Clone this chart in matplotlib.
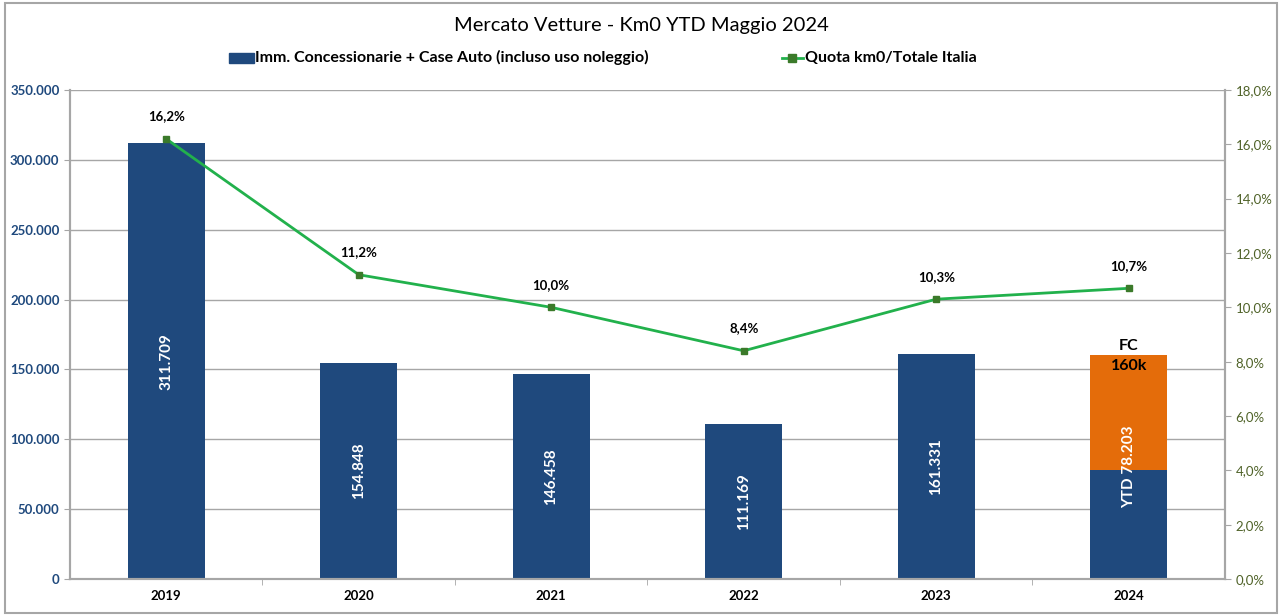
import matplotlib
matplotlib.use('Agg')
import matplotlib.pyplot as plt
from matplotlib.patches import Rectangle
from matplotlib.ticker import FuncFormatter, MultipleLocator

plt.rcParams['font.family'] = ['Lato', 'DejaVu Sans']

years = ['2019', '2020', '2021', '2022', '2023', '2024']
immatricolazioni = [311709, 154848, 146458, 111169, 161331, 78203]
forecast_2024 = 160000
quota_pct = [16.2, 11.2, 10.0, 8.4, 10.3, 10.7]
bar_labels = ['311.709', '154.848', '146.458', '111.169', '161.331', 'YTD 78.203']

BLUE = '#1F497D'
ORANGE = '#E46C0A'
GREEN = '#22B14C'
MARKER = '#3B7A2A'
GRID = '#A6A6A6'


def it_thousands(v, pos=None):
    return f"{int(round(v)):,}".replace(',', '.')


fig = plt.figure(figsize=(12.82, 6.15), dpi=100)
ax = fig.add_axes([0.0546, 0.0585, 0.9009, 0.7952])
ax2 = ax.twinx()

x = list(range(len(years)))
width = 0.4
ax.bar(x, immatricolazioni, width=width, color=BLUE, zorder=2)
ax.bar(x[-1], forecast_2024 - immatricolazioni[-1], bottom=immatricolazioni[-1],
       width=width, color=ORANGE, zorder=2)

for i, lab in enumerate(bar_labels):
    top = forecast_2024 if i == len(years) - 1 else immatricolazioni[i]
    ax.text(i, top / 2, lab, rotation=90, ha='center', va='center',
            color='white', fontsize=11, fontweight='bold', zorder=3)

ax.text(x[-1], forecast_2024 + 1500, 'FC', ha='center', va='bottom',
        fontsize=11.5, fontweight='bold', color='black')
ax.text(x[-1], forecast_2024 - 2500, '160k', ha='center', va='top',
        fontsize=11.5, fontweight='bold', color='black', zorder=3)

ax.set_xlim(-0.5, len(years) - 0.5)
ax.set_ylim(0, 350000)
ax.yaxis.set_major_locator(MultipleLocator(50000))
ax.yaxis.set_major_formatter(FuncFormatter(it_thousands))
ax.grid(axis='y', color=GRID, linewidth=1, zorder=0)
ax.set_axisbelow(True)
ax.set_xticks(x)
ax.set_xticklabels(years, fontweight='bold', fontsize=9.5)
ax.set_xticks([i + 0.5 for i in x[:-1]], minor=True)
ax.tick_params(axis='x', which='major', length=0, pad=8)
ax.tick_params(axis='x', which='minor', length=4, color=GRID, direction='out')
ax.tick_params(axis='y', length=4, color=GRID, labelcolor='#1F497D', labelsize=9.5)
for t in ax.get_yticklabels():
    t.set_fontweight('bold')

ax2.plot(x, quota_pct, color=GREEN, linewidth=2, marker='s', markersize=5,
         markerfacecolor=MARKER, markeredgecolor=MARKER, zorder=4)
for i, v in enumerate(quota_pct):
    ax2.text(i, v + 0.6, f"{v:.1f}%".replace('.', ','), ha='center', va='bottom',
             fontsize=9.5, fontweight='bold', color='black')
ax2.set_ylim(0, 18)
ax2.yaxis.set_major_locator(MultipleLocator(2))
ax2.yaxis.set_major_formatter(FuncFormatter(lambda v, p: f"{v:.1f}%".replace('.', ',')))
ax2.tick_params(axis='y', length=4, color=GRID, labelcolor='#4F6228', labelsize=9.5)

for a in (ax, ax2):
    for side in ('left', 'right', 'bottom'):
        a.spines[side].set_color(GRID)
        a.spines[side].set_linewidth(1.5)
    a.spines['top'].set_visible(False)

fig.text(0.5, 0.958, 'Mercato Vetture - Km0 YTD Maggio 2024', ha='center', va='center',
         fontsize=14.5, color='black')

# legend
fig.patches.append(Rectangle((0.1787, 0.898), 0.0195, 0.016, transform=fig.transFigure,
                             color=BLUE))
fig.text(0.1990, 0.906, 'Imm. Concessionarie + Case Auto (incluso uso noleggio)',
         ha='left', va='center', fontsize=11.5, fontweight='bold')
fig.lines.append(plt.Line2D([0.610, 0.626], [0.906, 0.906], transform=fig.transFigure,
                            color=GREEN, linewidth=2))
fig.lines.append(plt.Line2D([0.618], [0.906], transform=fig.transFigure,
                            color=MARKER, marker='s', markersize=6, linestyle='none'))
fig.text(0.628, 0.906, 'Quota km0/Totale Italia', ha='left', va='center',
         fontsize=11.5, fontweight='bold')

fig.patches.append(Rectangle((0.004, 0.004), 0.992, 0.991, transform=fig.transFigure,
                             fill=False, edgecolor=GRID, linewidth=1.5))

fig.savefig('out.png', dpi=100)
